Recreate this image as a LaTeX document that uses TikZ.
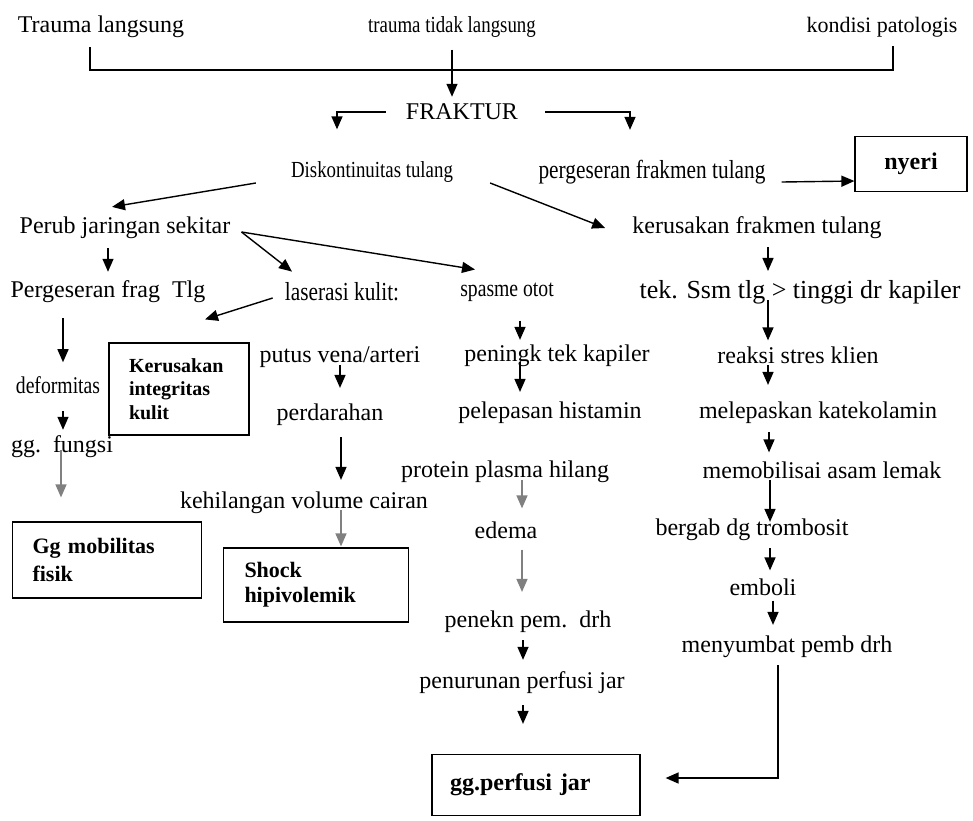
\documentclass[tikz,border=0pt]{standalone}
\usepackage{fontspec}
\setmainfont{Liberation Serif}
\newfontfamily\sempit[FakeStretch=0.82]{Liberation Serif}
\usetikzlibrary{shapes,arrows,arrows.meta}

\begin{document}
\begin{tikzpicture}[x=1pt,y=-1pt]
	\tikzstyle{teks}=[inner sep=2pt,font=\fontsize{24}{28}\selectfont]
	\tikzstyle{kecil}=[inner sep=2pt,font=\sempit\fontsize{23}{27}\selectfont]
	\tikzstyle{kotak}=[rectangle,draw=black,line width=1.2pt,align=left,
	inner xsep=20pt,font=\bfseries\fontsize{22}{26}\selectfont]

	\useasboundingbox (0,0) rectangle (973,820);

	\node[teks] (t1) at (101,27) {Trauma langsung};
	\node[kecil] (t2) at (452,27) {trauma tidak langsung};
	\node[teks,font=\fontsize{22}{26}\selectfont] (t3) at (882,27) {kondisi patologis};
	\node[teks] (fr) at (462,112) {FRAKTUR};
	\node[kecil] (dk) at (372,172) {Diskontinuitas tulang};
	\node[kecil,font=\sempit\fontsize{26}{30}\selectfont] (pf) at (652,172) {pergeseran frakmen tulang};
	\node[kotak,minimum width=112pt,minimum height=55pt,font=\bfseries\fontsize{24}{28}\selectfont]
	(ny) at (911,164) {nyeri};
	\node[teks] (pj) at (125,228) {Perub jaringan sekitar};
	\node[teks] (kf) at (757,228) {kerusakan frakmen tulang};
	\node[teks] (pg) at (108,292) {Pergeseran frag~~Tlg};
	\node[kecil,font=\sempit\fontsize{26}{30}\selectfont] (lk) at (342,292) {laserasi kulit:};
	\node[kecil,font=\sempit\fontsize{24}{28}\selectfont] (so) at (507,292) {spasme otot};
	\node[teks,font=\fontsize{26}{30}\selectfont] (ts) at (800,292) {tek. Ssm tlg > tinggi dr kapiler};
	\node[kotak,text width=100pt,minimum height=92pt,font=\bfseries\fontsize{20}{23.5}\selectfont]
	(ki) at (179,389) {Kerusakan\\integritas\\kulit};
	\node[kecil,font=\sempit\fontsize{24}{28}\selectfont] (df) at (58,385) {deformitas};
	\node[teks] (gf) at (62,447) {gg.~~fungsi};
	\node[kotak,text width=149pt,minimum height=76pt,font=\bfseries\fontsize{22}{28}\selectfont]
	(gm) at (107,560) {Gg mobilitas\\fisik};
	\node[teks] (pv) at (340,357) {putus vena/arteri};
	\node[teks] (pd) at (330,415) {perdarahan};
	\node[teks] (kv) at (304,503) {kehilangan volume cairan};
	\node[kotak,text width=143pt,inner xsep=21pt,minimum height=74pt,font=\bfseries\fontsize{22}{25}\selectfont]
	(sh) at (316,585) {Shock\\hipivolemik};
	\node[teks] (pk) at (557,356) {peningk tek kapiler};
	\node[teks] (ph) at (550,413) {pelepasan histamin};
	\node[teks] (pp) at (505,472) {protein plasma hilang};
	\node[teks] (ed) at (506,530) {edema};
	\node[teks] (pn) at (528,622) {penekn pem.~~drh};
	\node[teks] (pr) at (522,683) {penurunan perfusi jar};
	\node[kotak,text width=172pt,inner xsep=18pt,minimum height=61pt,font=\bfseries\fontsize{24}{28}\selectfont]
	(gp) at (536,785) {gg.perfusi jar};
	\node[teks] (rs) at (798,355) {reaksi stres klien};
	\node[teks] (mk) at (818,413) {melepaskan katekolamin};
	\node[teks] (ma) at (822,470) {memobilisai asam lemak};
	\node[teks] (bt) at (752,530) {bergab dg trombosit};
	\node[teks] (em) at (763,587) {emboli};
	\node[teks] (ms) at (787,647) {menyumbat pemb drh};

	\tikzstyle{garis}=[line width=1.4pt]
	\tikzstyle{suite}=[->,>={Triangle[length=13pt,width=11pt]},line width=1.4pt]
	\tikzstyle{pudar}=[draw=black!50,fill=black!50]

	\coordinate (k1) at (452,70);
	\draw[garis] ([shift={(-11,7)}]t1.south) |- (k1) -| ([shift={(11,7)}]t3.south);
	\draw[suite] ([shift={(0,10)}]t2.south) -- ([shift={(-10,-5)}]fr.north);

	\draw[suite] ([shift={(-18,0)}]fr.west) -| ([shift={(-35,-30)}]dk.north);
	\draw[suite] ([shift={(25,0)}]fr.east) -| ([shift={(-22,-28)}]pf.north);
	\draw[suite] ([shift={(14,10)}]pf.east) -- ([shift={(0,17)}]ny.west);
	\draw[suite] ([shift={(-33,11)}]dk.west) -- ([shift={(-13,-8)}]pj.north);
	\draw[suite] ([shift={(35,11)}]dk.east) -- ([shift={(-25,0)}]kf.west);

	\draw[suite] ([shift={(-17,7)}]pj.south) -- ([shift={(0,-7)}]pg.north);
	\draw[suite] ([shift={(9,4)}]pj.east) -- ([shift={(-50,-9)}]lk.north);
	\draw[suite] ([shift={(9,4)}]pj.east) -- ([shift={(-32,-11)}]so.north);
	\draw[suite] ([shift={(11,6)}]kf.south) -- ([shift={(-32,-7)}]ts.north);

	\draw[suite] ([shift={(-10,6)}]lk.west) -- ([shift={(26,-23)}]ki.north);
	\draw[suite] ([shift={(-45,13)}]pg.south) -- ([shift={(5,-12)}]df.north);
	\draw[suite] ([shift={(5,15)}]df.south) -- ([shift={(1,-4)}]gf.north);
	\draw[suite,pudar] ([shift={(-1,3)}]gf.center) -- ([shift={(-46,-24)}]gm.north);

	\draw[suite] ([shift={(0,8)}]pv.center) -- ([shift={(10,-14)}]pd.north);
	\draw[suite] ([shift={(11,9)}]pd.south) -- ([shift={(37,-10)}]kv.north);
	\draw[suite,pudar] ([shift={(37,7)}]kv.center) -- ([shift={(25,-1)}]sh.north);

	\draw[suite] ([shift={(13,17)}]so.south) -- ([shift={(-37,-3)}]pk.north);
	\draw[suite] ([shift={(-37,6)}]pk.center) -- ([shift={(-30,-8)}]ph.north);
	\draw[suite,pudar] ([shift={(17,8)}]pp.center) -- ([shift={(16,-11)}]ed.north);
	\draw[suite,pudar] ([shift={(16,9)}]ed.south) -- ([shift={(-6,-17)}]pn.north);
	\draw[suite] ([shift={(-5,5)}]pn.south) -- ([shift={(1,-10)}]pr.north);
	\draw[suite] ([shift={(1,9)}]pr.south) -- ([shift={(-13,-30)}]gp.north);

	\draw[suite] ([shift={(-32,8)}]ts.center) -- ([shift={(-30,-4)}]rs.north);
	\draw[suite] ([shift={(-30,10)}]rs.center) -- ([shift={(-50,-15)}]mk.north);
	\draw[suite] ([shift={(-49,6)}]mk.south) -- ([shift={(-53,-7)}]ma.north);
	\draw[suite] ([shift={(-52,10)}]ma.center) -- ([shift={(18,5)}]bt.north);
	\draw[suite] ([shift={(18,5)}]bt.south) -- ([shift={(7,-6)}]em.north);
	\draw[suite] ([shift={(10,3)}]em.south) -- ([shift={(-14,-9)}]ms.north);
	\draw[suite] ([shift={(-9,5)}]ms.south) |- ([shift={(25,-7)}]gp.east);
\end{tikzpicture}
\end{document}
